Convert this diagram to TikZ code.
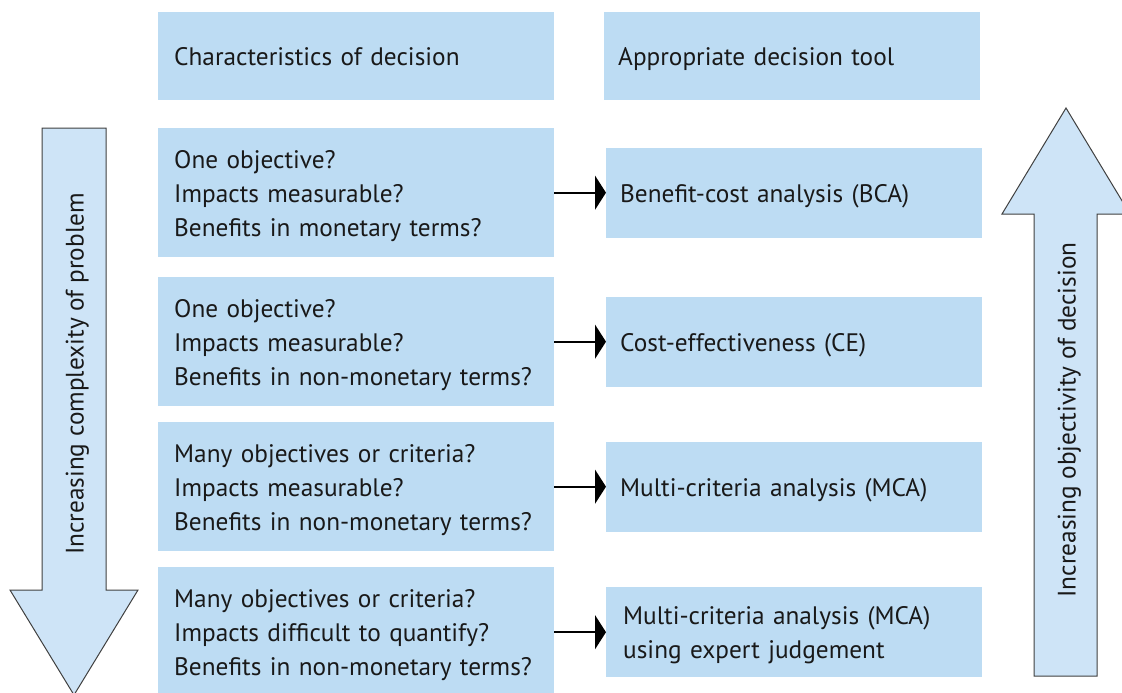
\documentclass[tikz,border=0pt]{standalone}
\usepackage{fontspec}
\setmainfont{PT Sans}
\usetikzlibrary{arrows.meta}
\definecolor{boxblue}{RGB}{189,220,243}
\definecolor{arrblue}{RGB}{206,228,247}
\definecolor{edgegray}{RGB}{64,64,64}
\definecolor{txt}{RGB}{25,25,25}
\newcommand\mystrut{\rule[-7.5pt]{0pt}{34pt}}
\begin{document}
\begin{tikzpicture}[x=1pt,y=-1pt,
  every node/.style={font=\fontsize{25.3}{34}\selectfont, text=txt,
    execute at begin node=\mystrut, execute at end node=\mystrut},
  lbox/.style={fill=boxblue, draw=none, anchor=north west, inner xsep=16pt, inner ysep=0pt,
    text width=364pt, minimum height=129pt, align=left},
  hbox/.style={lbox, minimum height=88pt},
  rbox/.style={fill=boxblue, draw=none, anchor=north west, inner xsep=14pt, inner ysep=0pt,
    text width=348pt, minimum height=90pt, align=left},
  bigarrow/.style={fill=arrblue, draw=edgegray, line width=1pt, line join=miter},
  conn/.style={draw=black, line width=2pt, -{Triangle[length=11pt,width=34pt]}},
  sidetext/.style={rotate=90, inner sep=0pt}]
\useasboundingbox (0,0) rectangle (1122,693);

% headers
\node[hbox] (h1) at (158,12) {Characteristics of decision};
\node[hbox, text width=348pt, inner xsep=14pt] (h2) at (604,12) {Appropriate decision tool};

% characteristics boxes
\node[lbox] (c1) at (158,128) {One objective?\\Impacts measurable?\\\mbox{Benefits in monetary terms?}};
\node[lbox] (c2) at (158,277) {One objective?\\Impacts measurable?\\\mbox{Benefits in non-monetary terms?}};
\node[lbox] (c3) at (158,422) {\mbox{Many objectives or criteria?}\\Impacts measurable?\\\mbox{Benefits in non-monetary terms?}};
\node[lbox] (c4) at (158,567) {\mbox{Many objectives or criteria?}\\\mbox{Impacts difficult to quantify?}\\\mbox{Benefits in non-monetary terms?}};

% tool boxes
\node[rbox] (t1) at (606,148) {Benefit-cost analysis (BCA)};
\node[rbox] (t2) at (606,297) {Cost-effectiveness (CE)};
\node[rbox] (t3) at (606,442) {Multi-criteria analysis (MCA)};
\node[rbox, inner xsep=17pt, text width=342pt] (t4) at (606,587) {Multi-criteria analysis (MCA)\\using expert judgement};

% connectors
\draw[conn] (c1.east) -- (c1.east -| t1.west);
\draw[conn] (c2.east) -- (c2.east -| t2.west);
\draw[conn] (c3.east) -- (c3.east -| t3.west);
\draw[conn] (t4.west -| c4.east) -- (t4.west);

% big arrows
\draw[bigarrow] (42,128) -- (106,128) -- (106,590) -- (138,590) -- (74,695) -- (10,590) -- (42,590) -- cycle;
\node[sidetext] (la) at (74,374) {Increasing complexity of problem};
\draw[bigarrow] (1034,676) -- (1097,676) -- (1097,214) -- (1130,214) -- (1066,108) -- (1002,214) -- (1034,214) -- cycle;
\node[sidetext] (ra) at (1066,420) {Increasing objectivity of decision};
\end{tikzpicture}
\end{document}
